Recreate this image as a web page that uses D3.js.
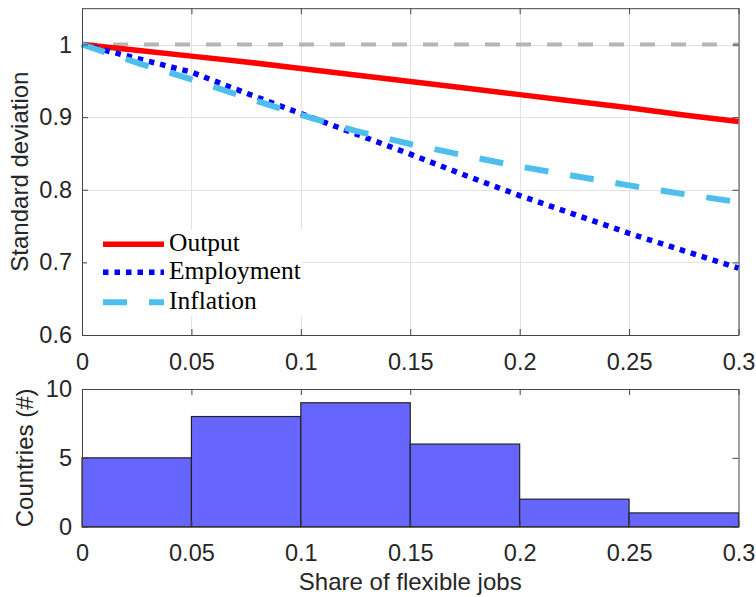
<!DOCTYPE html>
<html>
<head>
<meta charset="utf-8">
<script src="https://cdn.jsdelivr.net/npm/d3@7"></script>
<style>
  html, body { margin: 0; padding: 0; background: #fff; }
  svg { display: block; }
  .tick text { font-family: "Liberation Sans", Arial, sans-serif; fill: #262626; }
</style>
</head>
<body>
<svg id="chart" width="756" height="597"></svg>
<script>
// Share of flexible jobs on the horizontal axis
const shares = [0, 0.025, 0.05, 0.075, 0.1, 0.125, 0.15, 0.175, 0.2, 0.225, 0.25, 0.275, 0.3];
// Standard deviation relative to the no-flexibility baseline
const outputSd     = [1, 0.992, 0.984, 0.976, 0.967, 0.958, 0.949, 0.940, 0.931, 0.922, 0.913, 0.903, 0.894];
const employmentSd = [1, 0.981, 0.962, 0.933, 0.905, 0.877, 0.849, 0.820, 0.792, 0.766, 0.740, 0.716, 0.692];
const inflationSd  = [1, 0.975, 0.952, 0.927, 0.903, 0.881, 0.863, 0.847, 0.832, 0.819, 0.806, 0.794, 0.783];
const baselineSd = 1;

// Histogram of countries by share of flexible jobs
const binEdges = [0, 0.05, 0.1, 0.15, 0.2, 0.25, 0.3];
const countryCounts = [5, 8, 9, 6, 2, 1];

// Tick labels
const xTicks = [0, 0.05, 0.1, 0.15, 0.2, 0.25, 0.3];
const yTicksTop = [0.6, 0.7, 0.8, 0.9, 1];
const yTicksBottom = [0, 5, 10];

const seriesNames = ["Output", "Employment", "Inflation"];

const svg = d3.select("#chart");
const axisColor = "#444";
const tickFont = "23.5px";
const labelFont = "24px";

const x = d3.scaleLinear().domain([0, 0.3]).range([82, 738.5]);
const yTop = d3.scaleLinear().domain([0.6, 1.05]).range([335, 8.2]);
const yBot = d3.scaleLinear().domain([0, 10]).range([526.7, 389]);

const fmt = d => d3.format("~g")(d);

function styleAxis(g) {
  g.select(".domain").attr("stroke", axisColor);
  g.selectAll(".tick line").attr("stroke", axisColor);
  g.selectAll("text").style("font-size", tickFont);
}

// ---------- upper panel: standard deviations ----------
const upper = svg.append("g");
const [tx0, tx1] = x.range();
const [ty0, ty1] = yTop.range();

// grid
upper.append("g").selectAll("line").data(xTicks).join("line")
  .attr("x1", d => Math.round(x(d)) + 0.5).attr("x2", d => Math.round(x(d)) + 0.5)
  .attr("y1", ty1).attr("y2", ty0)
  .attr("stroke", "#e2e2e2").attr("stroke-width", 1);
upper.append("g").selectAll("line").data(yTicksTop).join("line")
  .attr("y1", d => Math.round(yTop(d)) + 0.5).attr("y2", d => Math.round(yTop(d)) + 0.5)
  .attr("x1", tx0).attr("x2", tx1)
  .attr("stroke", "#e2e2e2").attr("stroke-width", 1);

// reference line at 1
upper.append("line")
  .attr("x1", x(0)).attr("x2", x(0.3))
  .attr("y1", yTop(baselineSd)).attr("y2", yTop(baselineSd))
  .attr("stroke", "#b5b5b5").attr("stroke-width", 4)
  .attr("stroke-dasharray", "15,16");

const line = d3.line().x((d, i) => x(shares[i])).y(d => yTop(d));

const styles = [
  { data: outputSd,     color: "#ff0000", dash: null,    width: 5.5 },
  { data: employmentSd, color: "#0000ff", dash: "5.5,6", width: 5.5 },
  { data: inflationSd,  color: "#4dbeee", dash: "24,22", width: 6 }
];

styles.forEach(s => {
  upper.append("path").datum(s.data)
    .attr("d", line)
    .attr("fill", "none")
    .attr("stroke", s.color)
    .attr("stroke-width", s.width)
    .attr("stroke-dasharray", s.dash);
});

// axes (ticks pointing inward, box on all sides)
upper.append("g").attr("transform", `translate(0,${ty0})`)
  .call(d3.axisBottom(x).tickValues(xTicks).tickFormat(fmt).tickSizeInner(-6).tickSizeOuter(0).tickPadding(18))
  .call(styleAxis);
upper.append("g").attr("transform", `translate(0,${ty1})`)
  .call(d3.axisTop(x).tickValues(xTicks).tickFormat("").tickSizeInner(-6).tickSizeOuter(0))
  .call(styleAxis);
upper.append("g").attr("transform", `translate(${tx0},0)`)
  .call(d3.axisLeft(yTop).tickValues(yTicksTop).tickFormat(fmt).tickSizeInner(-6).tickSizeOuter(0).tickPadding(10))
  .call(styleAxis);
upper.append("g").attr("transform", `translate(${tx1},0)`)
  .call(d3.axisRight(yTop).tickValues(yTicksTop).tickFormat("").tickSizeInner(-6).tickSizeOuter(0))
  .call(styleAxis);

// legend
const legend = upper.append("g");
legend.append("rect")
  .attr("x", 87).attr("y", 230).attr("width", 215).attr("height", 86)
  .attr("fill", "#fff");
const legendRows = [244.3, 272.3, 302.3];
styles.forEach((s, i) => {
  legend.append("line")
    .attr("x1", 103).attr("x2", 164)
    .attr("y1", legendRows[i]).attr("y2", legendRows[i])
    .attr("stroke", s.color).attr("stroke-width", s.width)
    .attr("stroke-dasharray", s.dash);
  legend.append("text")
    .attr("x", 169).attr("y", legendRows[i] + 7)
    .attr("font-family", "'Liberation Serif', 'Times New Roman', serif")
    .attr("font-size", "25.5px").attr("fill", "#000")
    .text(seriesNames[i]);
});

// y label
svg.append("text")
  .attr("transform", `translate(28,${(ty0 + ty1) / 2}) rotate(-90)`)
  .attr("text-anchor", "middle")
  .attr("font-family", "'Liberation Sans', Arial, sans-serif")
  .attr("font-size", labelFont).attr("fill", "#262626")
  .text("Standard deviation");

// ---------- lower panel: histogram ----------
const lower = svg.append("g");
const [by0, by1] = yBot.range();

lower.append("g").selectAll("rect").data(countryCounts).join("rect")
  .attr("x", (d, i) => x(binEdges[i]))
  .attr("width", (d, i) => x(binEdges[i + 1]) - x(binEdges[i]))
  .attr("y", d => yBot(d))
  .attr("height", d => yBot(0) - yBot(d))
  .attr("fill", "#6666ff")
  .attr("stroke", "#222")
  .attr("stroke-width", 1.2);

lower.append("g").attr("transform", `translate(0,${by0})`)
  .call(d3.axisBottom(x).tickValues(xTicks).tickFormat(fmt).tickSizeInner(-6).tickSizeOuter(0).tickPadding(18))
  .call(styleAxis);
lower.append("g").attr("transform", `translate(0,${by1})`)
  .call(d3.axisTop(x).tickValues(xTicks).tickFormat("").tickSizeInner(-6).tickSizeOuter(0))
  .call(styleAxis);
lower.append("g").attr("transform", `translate(${tx0},0)`)
  .call(d3.axisLeft(yBot).tickValues(yTicksBottom).tickFormat(fmt).tickSizeInner(-6).tickSizeOuter(0).tickPadding(10))
  .call(styleAxis);
lower.append("g").attr("transform", `translate(${tx1},0)`)
  .call(d3.axisRight(yBot).tickValues(yTicksBottom).tickFormat("").tickSizeInner(-6).tickSizeOuter(0))
  .call(styleAxis);

svg.append("text")
  .attr("transform", `translate(33,${(by0 + by1) / 2}) rotate(-90)`)
  .attr("text-anchor", "middle")
  .attr("font-family", "'Liberation Sans', Arial, sans-serif")
  .attr("font-size", labelFont).attr("fill", "#262626")
  .text("Countries (#)");

svg.append("text")
  .attr("x", (tx0 + tx1) / 2).attr("y", 590)
  .attr("text-anchor", "middle")
  .attr("font-family", "'Liberation Sans', Arial, sans-serif")
  .attr("font-size", labelFont).attr("fill", "#262626")
  .text("Share of flexible jobs");
</script>
</body>
</html>
